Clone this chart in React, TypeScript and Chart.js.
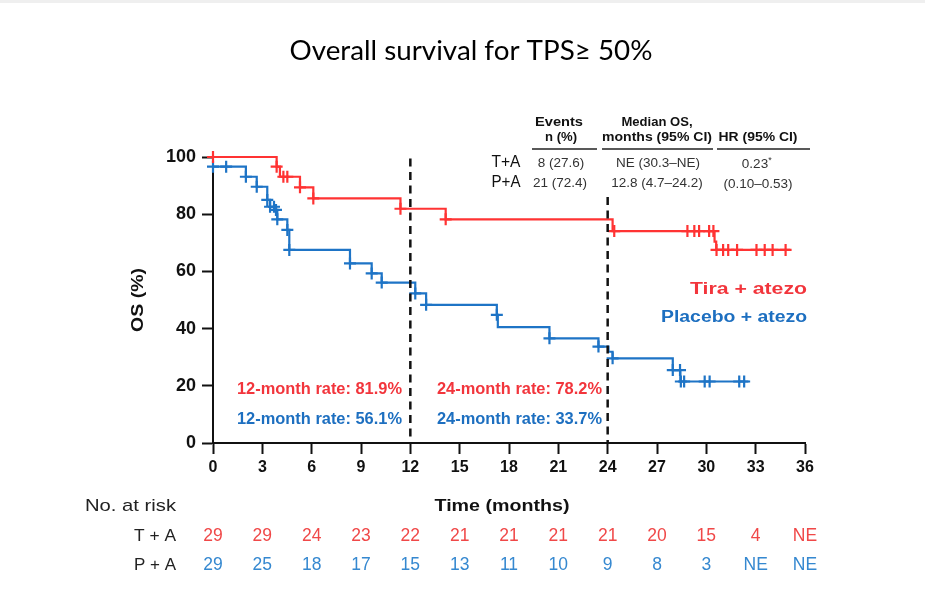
import React, { useEffect, useRef } from "react";
import { Chart, registerables } from "chart.js";

Chart.register(...registerables);

// ---------- data ----------
const TITLE = "Overall survival for TPS\u2265 50%";
const X_TICKS = [0, 3, 6, 9, 12, 15, 18, 21, 24, 27, 30, 33, 36];
const Y_TICKS = [0, 20, 40, 60, 80, 100];

// Tira + atezo (T+A) Kaplan–Meier steps
const TA_TIMES = [0, 3.87, 4.07, 5.29, 6.1, 11.4, 14.15, 24.3, 30.5, 30.6, 35.1];
const TA_SURV = [100, 96.6, 93.1, 89.4, 85.5, 81.9, 78.2, 74.1, 70.4, 67.5, 67.5];
const TA_CENSOR = [0, 3.87, 4.28, 4.52, 5.29, 6.1, 11.4, 14.15, 24.4, 28.85, 29.27, 29.56, 30.17, 30.43, 30.62, 31.02, 31.33, 31.87, 33.05, 33.55, 34.03, 34.82];

// Placebo + atezo (P+A) Kaplan–Meier steps
const PA_TIMES = [0, 2.0, 2.66, 3.3, 3.47, 3.83, 3.91, 4.52, 4.64, 8.33, 9.65, 10.26, 12.3, 12.96, 17.26, 17.32, 20.46, 23.44, 24.05, 24.3, 27.96, 28.42, 32.56];
const PA_SURV = [96.6, 93.1, 89.6, 85.0, 82.6, 81.5, 78.2, 74.5, 67.5, 62.8, 59.3, 56.1, 52.3, 48.3, 44.8, 40.5, 36.6, 33.7, 31.9, 29.6, 25.5, 21.5, 21.5];
const PA_CENSOR = [0, 0.8, 2.0, 2.66, 3.3, 3.47, 3.71, 3.83, 3.91, 4.52, 4.64, 8.33, 9.65, 10.26, 12.3, 12.96, 17.26, 20.46, 23.44, 24.3, 27.96, 28.4, 28.45, 28.65, 29.9, 30.2, 32.0, 32.3];

// landmark reference lines
const REF_MONTHS = [12, 24];
const REF_TOP = [99.5, 86];

// numbers at risk
const RISK_TA = ["29", "29", "24", "23", "22", "21", "21", "21", "21", "20", "15", "4", "NE"];
const RISK_PA = ["29", "25", "18", "17", "15", "13", "11", "10", "9", "8", "3", "NE", "NE"];

// summary table
const ROW_LABELS = ["T+A", "P+A"];
const EVENTS = ["8 (27.6)", "21 (72.4)"];
const MEDIAN_OS = ["NE (30.3\u2013NE)", "12.8 (4.7\u201324.2)"];
const HR = ["0.23", "(0.10\u20130.53)"];

const RATES_12 = ["12-month rate: 81.9%", "12-month rate: 56.1%"];
const RATES_24 = ["24-month rate: 78.2%", "24-month rate: 33.7%"];
const ARM_NAMES = ["Tira + atezo", "Placebo + atezo"];
const RISK_ROWS = ["T + A", "P + A"];

// ---------- styles ----------
const RED = "#FF3333";
const BLUE = "#1E74C6";
const RED_TXT = "#F2353C";
const BLUE_TXT = "#1D6FC0";
const RED_RISK = "#F04848";
const BLUE_RISK = "#3588D0";
const INK = "#111111";
const GRAY_TXT = "#333333";
const SANS = '"Liberation Sans", Arial, sans-serif';

function levelAt(times: number[], surv: number[], t: number) {
  let v = surv[0];
  for (let i = 0; i < times.length; i++) if (times[i] <= t) v = surv[i];
  return v;
}

function txt(
  ctx: CanvasRenderingContext2D,
  s: string,
  x: number,
  y: number,
  font: string,
  color: string,
  align: CanvasTextAlign,
  width?: number
) {
  ctx.save();
  ctx.font = font;
  ctx.fillStyle = color;
  ctx.textBaseline = "middle";
  const m = ctx.measureText(s).width;
  const sx = width ? width / m : 1;
  ctx.translate(x, y);
  ctx.scale(sx, 1);
  ctx.textAlign = align;
  ctx.fillText(s, 0, 0);
  ctx.restore();
}

const decorPlugin = {
  id: "decor",
  beforeDraw(chart: any) {
    const ctx = chart.ctx as CanvasRenderingContext2D;
    ctx.save();
    ctx.fillStyle = "#ffffff";
    ctx.fillRect(0, 0, chart.width, chart.height);
    ctx.fillStyle = "#efefef";
    ctx.fillRect(0, 0, chart.width, 3);
    ctx.restore();
  },
  afterDatasetsDraw(chart: any) {
    const ctx = chart.ctx as CanvasRenderingContext2D;
    const xs = chart.scales.x;
    const ys = chart.scales.y;
    ctx.save();
    ctx.strokeStyle = INK;
    ctx.lineWidth = 2.5;
    ctx.setLineDash([8, 5.5]);
    REF_MONTHS.forEach((m, i) => {
      const px = xs.getPixelForValue(m);
      ctx.beginPath();
      ctx.moveTo(px, ys.getPixelForValue(REF_TOP[i]));
      ctx.lineTo(px, ys.getPixelForValue(0));
      ctx.stroke();
    });
    ctx.restore();
  },
  afterDraw(chart: any) {
    const ctx = chart.ctx as CanvasRenderingContext2D;
    const xs = chart.scales.x;

    // title
    txt(ctx, TITLE, 471, 52, '400 26px Lato, "Open Sans", sans-serif', "#000", "center", 363);

    // table headers
    const hb = `bold 13px ${SANS}`;
    txt(ctx, "Events", 559, 122, hb, INK, "center", 48);
    txt(ctx, "n (%)", 561, 137, hb, INK, "center", 32);
    txt(ctx, "Median OS,", 657, 122, hb, INK, "center", 71);
    txt(ctx, "months (95% CI)", 657, 137, hb, INK, "center", 110);
    txt(ctx, "HR (95% CI)", 758, 137, hb, INK, "center", 79);
    ctx.save();
    ctx.strokeStyle = "#222";
    ctx.lineWidth = 1.5;
    [[532, 597], [602, 713], [717, 810]].forEach(([a, b]) => {
      ctx.beginPath();
      ctx.moveTo(a, 149);
      ctx.lineTo(b, 149);
      ctx.stroke();
    });
    ctx.restore();

    // table rows
    const rowY = [163, 183];
    const rv = `13.5px ${SANS}`;
    ROW_LABELS.forEach((l, i) => txt(ctx, l, 506, rowY[i], `16px ${SANS}`, "#111", "center", 29));
    txt(ctx, EVENTS[0], 561, rowY[0], rv, GRAY_TXT, "center");
    txt(ctx, EVENTS[1], 560, rowY[1], rv, GRAY_TXT, "center");
    txt(ctx, MEDIAN_OS[0], 658, rowY[0], rv, GRAY_TXT, "center");
    txt(ctx, MEDIAN_OS[1], 657, rowY[1], rv, GRAY_TXT, "center");
    txt(ctx, HR[0], 755, 164, rv, GRAY_TXT, "center");
    txt(ctx, "*", 770, 161, `9px ${SANS}`, GRAY_TXT, "center");
    txt(ctx, HR[1], 758, 184, rv, GRAY_TXT, "center");

    // landmark rates
    const rb = `bold 16px ${SANS}`;
    txt(ctx, RATES_12[0], 237, 390, rb, RED_TXT, "left", 165);
    txt(ctx, RATES_12[1], 237, 419.5, rb, BLUE_TXT, "left", 165);
    txt(ctx, RATES_24[0], 437, 390, rb, RED_TXT, "left", 165);
    txt(ctx, RATES_24[1], 437, 419.5, rb, BLUE_TXT, "left", 165);

    // arm names
    txt(ctx, ARM_NAMES[0], 807, 290, `bold 16px ${SANS}`, RED_TXT, "right", 117);
    txt(ctx, ARM_NAMES[1], 807, 318, `bold 16px ${SANS}`, BLUE_TXT, "right", 146);

    // axis titles
    ctx.save();
    ctx.translate(138, 300);
    ctx.rotate(-Math.PI / 2);
    txt(ctx, "OS (%)", 0, 0, `bold 17px ${SANS}`, INK, "center", 64);
    ctx.restore();
    txt(ctx, "Time (months)", 502, 506, `bold 17px ${SANS}`, INK, "center", 135);

    // number at risk
    txt(ctx, "No. at risk", 85, 506, `17px ${SANS}`, "#222", "left", 91);
    txt(ctx, RISK_ROWS[0], 176, 536, `17px ${SANS}`, "#222", "right", 42);
    txt(ctx, RISK_ROWS[1], 176, 565, `17px ${SANS}`, "#222", "right", 42);
    X_TICKS.forEach((t, i) => {
      const px = xs.getPixelForValue(t);
      txt(ctx, RISK_TA[i], px, 536, `17.5px ${SANS}`, RED_RISK, "center");
      txt(ctx, RISK_PA[i], px, 565, `17.5px ${SANS}`, BLUE_RISK, "center");
    });
  },
};

export default function App() {
  const ref = useRef<HTMLCanvasElement | null>(null);

  useEffect(() => {
    if (!ref.current) return;
    const lineDs = (times: number[], surv: number[], color: string) => ({
      type: "line" as const,
      data: times.map((t, i) => ({ x: t, y: surv[i] })),
      borderColor: color,
      borderWidth: 2.2,
      stepped: "before" as const,
      pointRadius: 0,
      fill: false,
      tension: 0,
      clip: false as any,
    });
    const censorDs = (cens: number[], times: number[], surv: number[], color: string) => ({
      type: "line" as const,
      data: cens.map((t) => ({ x: t, y: levelAt(times, surv, t) })),
      showLine: false,
      borderColor: color,
      backgroundColor: color,
      pointStyle: "cross" as const,
      pointRadius: 6,
      pointBorderWidth: 2.2,
      pointBorderColor: color,
      clip: false as any,
    });

    const chart = new Chart(ref.current, {
      type: "line",
      data: {
        datasets: [
          lineDs(TA_TIMES, TA_SURV, RED),
          lineDs(PA_TIMES, PA_SURV, BLUE),
          censorDs(TA_CENSOR, TA_TIMES, TA_SURV, RED),
          censorDs(PA_CENSOR, PA_TIMES, PA_SURV, BLUE),
        ] as any,
      },
      options: {
        animation: false,
        responsive: false,
        devicePixelRatio: 1,
        layout: { padding: { top: 157, right: 120, bottom: 0, left: 0 } },
        plugins: { legend: { display: false }, tooltip: { enabled: false }, title: { display: false } },
        scales: {
          x: {
            type: "linear",
            min: 0,
            max: 36,
            afterFit: (s: any) => {
              s.height = 163;
            },
            afterBuildTicks: (s: any) => {
              s.ticks = X_TICKS.map((v) => ({ value: v }));
            },
            ticks: {
              autoSkip: false,
              maxRotation: 0,
              color: INK,
              padding: 4,
              font: { family: SANS, size: 16, weight: "bold" },
              callback: (v: any) => String(v),
            },
            grid: {
              display: true,
              drawOnChartArea: false,
              drawTicks: true,
              tickLength: 11,
              tickWidth: 2,
              tickColor: INK,
            },
            border: { display: true, color: INK, width: 2 },
          },
          y: {
            type: "linear",
            min: 0,
            max: 100,
            afterFit: (s: any) => {
              s.width = 213;
            },
            afterBuildTicks: (s: any) => {
              s.ticks = Y_TICKS.map((v) => ({ value: v }));
            },
            ticks: {
              color: INK,
              padding: 6,
              font: { family: SANS, size: 18, weight: "bold" },
              callback: (v: any) => String(v),
            },
            grid: {
              display: true,
              drawOnChartArea: false,
              drawTicks: true,
              tickLength: 11,
              tickWidth: 2,
              tickColor: INK,
            },
            border: { display: true, color: INK, width: 2 },
          },
        },
      } as any,
      plugins: [decorPlugin],
    });
    return () => chart.destroy();
  }, []);

  return (
    <div style={{ position: "fixed", left: 0, top: 0, width: 925, height: 606, background: "#fff" }}>
      <canvas ref={ref} width={925} height={606} style={{ width: 925, height: 606, display: "block" }} />
    </div>
  );
}
